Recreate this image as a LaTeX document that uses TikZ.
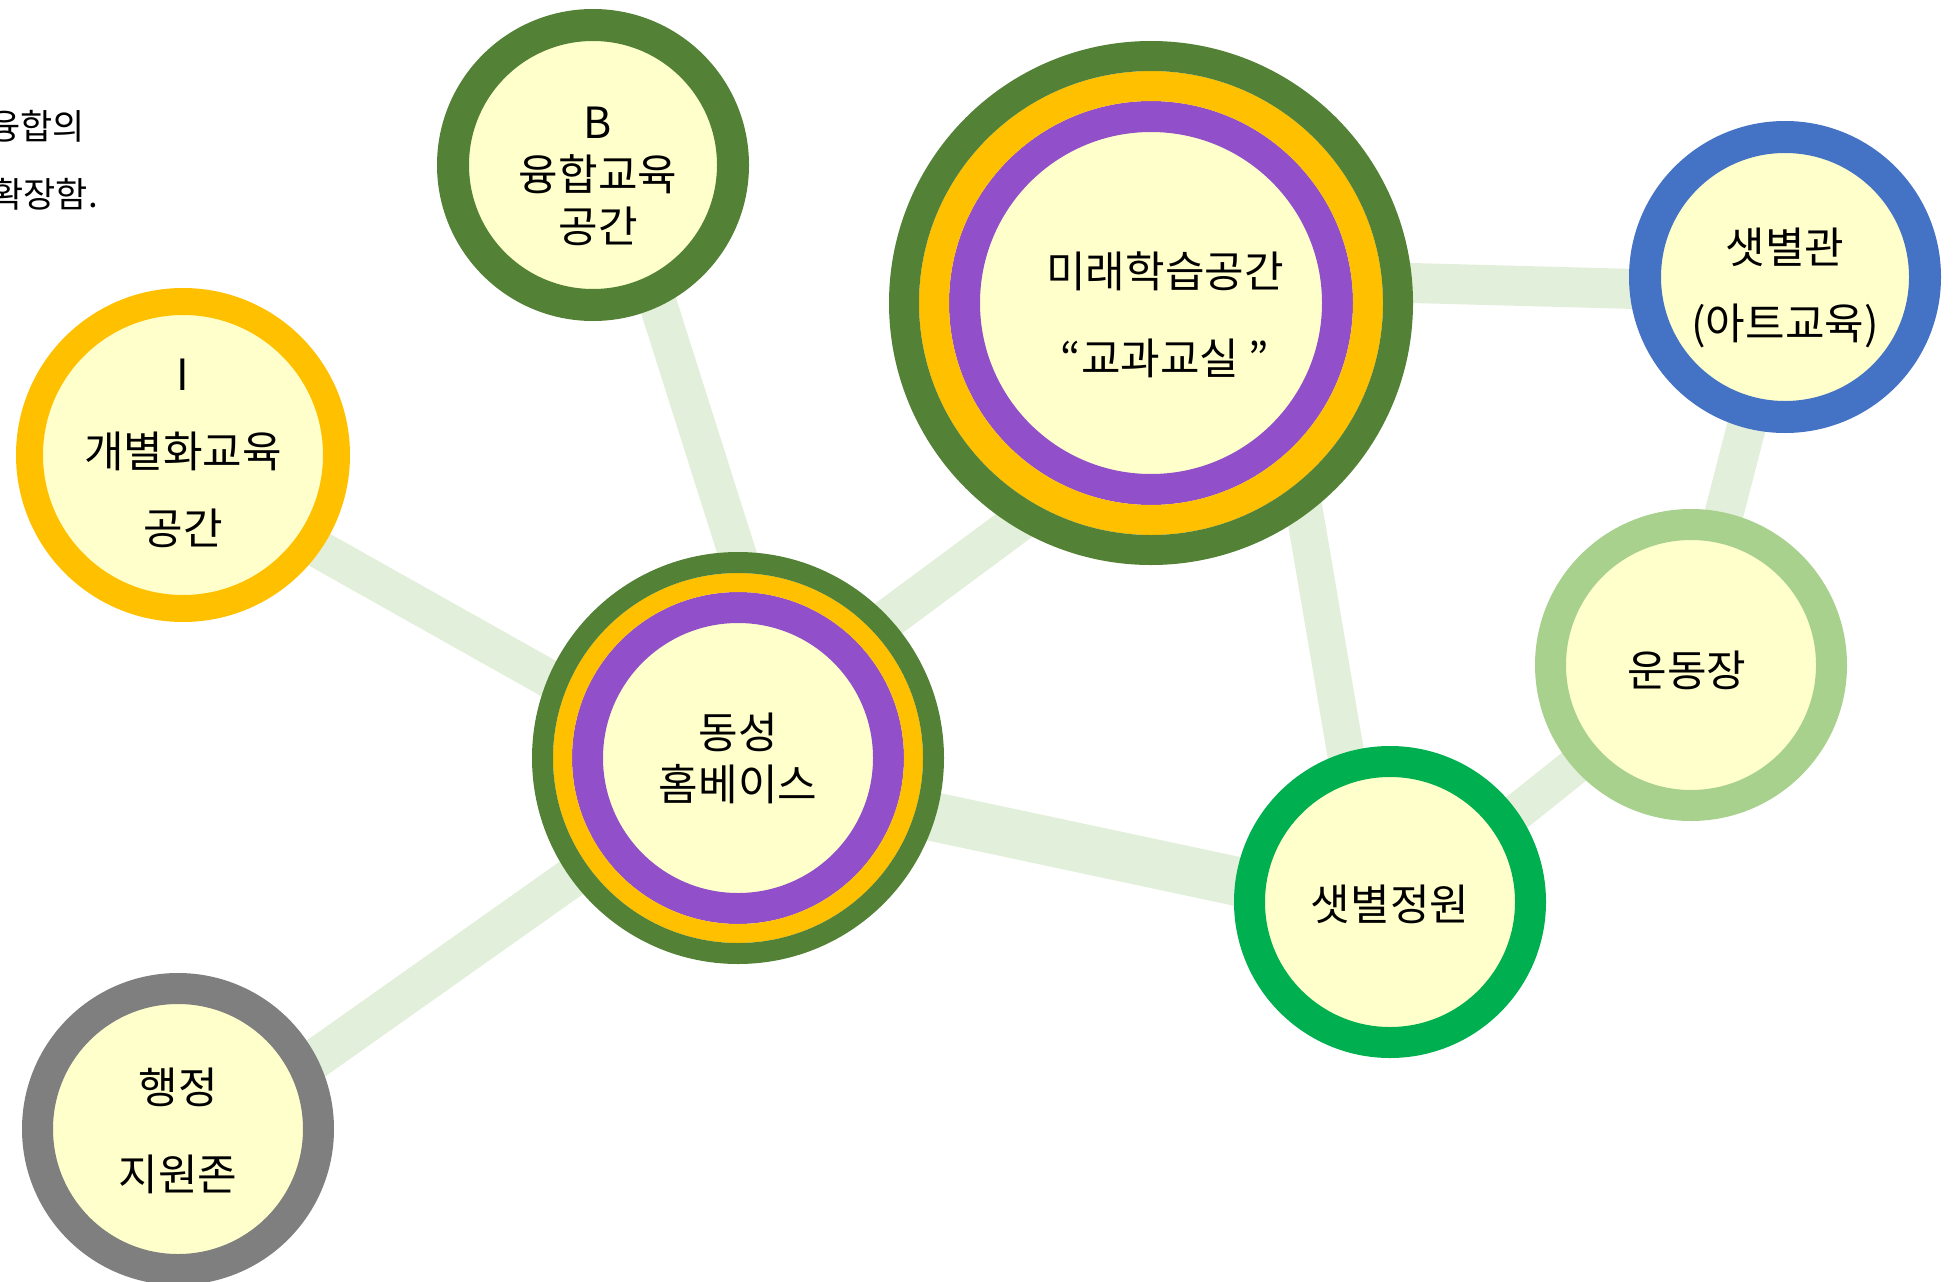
\documentclass[tikz,border=0pt]{standalone}
\usepackage{fontspec}
\setmainfont{Noto Sans CJK KR}
\usetikzlibrary{backgrounds}

\definecolor{leafgreen}{HTML}{538135}
\definecolor{amber}{HTML}{FFC000}
\definecolor{violet}{HTML}{9150C9}
\definecolor{azure}{HTML}{4472C4}
\definecolor{sage}{HTML}{A9D18E}
\definecolor{emerald}{HTML}{00B050}
\definecolor{slate}{HTML}{7F7F7F}
\definecolor{cream}{HTML}{FFFFCC}
\definecolor{linkgreen}{HTML}{E2EFDA}

\tikzset{
  room/.style={circle, draw=#1, fill=cream, line width=31pt, minimum size=281pt, inner sep=0pt},
  link/.style={draw=linkgreen, line width=39pt},
  txt/.style={align=center, inner sep=0pt, font=\fontsize{43}{#1}\selectfont},
}

\begin{document}
\begin{tikzpicture}[x=1pt,y=-1pt]
\useasboundingbox (0,0) rectangle (1957,1282);

% spaces
\node[room=leafgreen, line width=32pt, minimum size=280pt] (bspace) at (593,165) {};
\node[room=amber, line width=27pt, minimum size=307pt] (indiv) at (183,455) {};
\node[room=violet, minimum size=373pt] (mirae) at (1151,303) {};
\draw[amber, line width=30pt] (mirae.center) circle (217pt);
\draw[leafgreen, line width=30pt] (mirae.center) circle (247pt);
\node[room=azure, line width=32pt, minimum size=280pt] (gallery) at (1785,277) {};
\node[room=sage] (field) at (1691,665) {};
\node[room=violet, minimum size=301pt] (home) at (738,758) {};
\draw[amber, line width=19pt] (home.center) circle (175.5pt);
\draw[leafgreen, line width=21pt] (home.center) circle (195.5pt);
\node[room=emerald] (garden) at (1390,902) {};
\node[room=slate] (admin) at (178,1129) {};

% names
\node[txt=52] (btext) at ([shift={(5,11)}]bspace.center) {B\\융합교육\\공간};
\node[txt=77] (itext) at ([shift={(0,-2)}]indiv.center) {I\\개별화교육\\공간};
\node[txt=87] (miraetext) at ([shift={(14,12)}]mirae.center) {미래학습공간\\“교과교실 "};
\node[txt=76] (gallerytext) at ([shift={(0,11)}]gallery.center) {샛별관\\(아트교육)};
\node[txt=52] (fieldtext) at ([shift={(-4,5)}]field.center) {운동장};
\node[txt=52] (hometext) at (home.center) {동성\\홈베이스};
\node[txt=52] (gardentext) at ([shift={(0,2)}]garden.center) {샛별정원};
\node[txt=87] (admintext) at ([shift={(0,2)}]admin.center) {행정\\지원존};

% note at top left
\node[anchor=east, inner sep=0pt, font=\fontsize{35}{42}\selectfont] (note1) at (85,126) {융합의};
\node[anchor=east, inner sep=0pt, font=\fontsize{35}{42}\selectfont] (note2) at (98,194) {확장함.};

% links
\begin{pgfonlayer}{background}
\draw[link, line width=38pt] ([shift={(64,0)}]home.center) -- ([shift={(21,0)}]bspace.center);
\draw[link, line width=38pt] ([shift={(0,27)}]home.center) -- ([shift={(0,18)}]indiv.center);
\draw[link, line width=40pt] ([shift={(0,-28)}]home.center) -- ([shift={(0,121)}]mirae.center);
\draw[link, line width=40pt] ([shift={(0,2)}]home.center) -- ([shift={(0,27)}]admin.center);
\draw[link, line width=49pt] ([shift={(0,17)}]home.center) -- ([shift={(0,12)}]garden.center);
\draw[link, line width=40pt] ([shift={(0,-27)}]mirae.center) -- ([shift={(0,16)}]gallery.center);
\draw[link, line width=37pt] ([shift={(118,0)}]mirae.center) -- ([shift={(-19,0)}]garden.center);
\draw[link] (gallery.center) -- ([shift={(-6,0)}]field.center);
\draw[link, line width=37pt] ([shift={(0,8)}]field.center) -- ([shift={(0,12)}]garden.center);
\end{pgfonlayer}
\end{tikzpicture}
\end{document}
